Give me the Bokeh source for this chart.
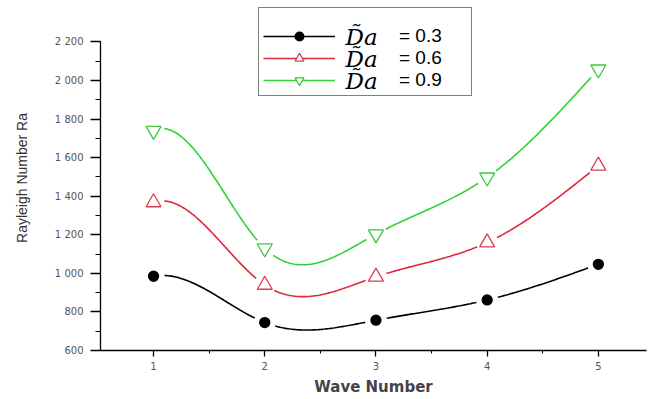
import numpy as np
from bokeh.plotting import figure
from bokeh.models import Range1d, SingleIntervalTicker, Legend, LegendItem, Label
from bokeh.embed import file_html
from bokeh.resources import INLINE

# ---- data ----
wave = [1, 2, 3, 4, 5]
ra_da03 = [985, 745, 757, 862, 1047]
ra_da06 = [1368, 940, 982, 1160, 1558]
ra_da09 = [1740, 1130, 1203, 1498, 2058]
series_labels = ["= 0.3", "= 0.6", "= 0.9"]
y_ticks = [600, 800, 1000, 1200, 1400, 1600, 1800, 2000, 2200]
y_tick_labels = ["600", "800", "1 000", "1 200", "1 400", "1 600", "1 800", "2 000", "2 200"]
x_ticks = [1, 2, 3, 4, 5]


def smooth(xs, ys, n=300):
    """Cubic spline through the data points (clamped start, natural end)."""
    x = np.asarray(xs, float)
    y = np.asarray(ys, float)
    m = len(x)
    h = np.diff(x)
    d0 = 0.45 * (y[0] - y[1])
    A = np.zeros((m, m))
    b = np.zeros(m)
    A[0, 0] = 2 * h[0]
    A[0, 1] = h[0]
    b[0] = 6 * ((y[1] - y[0]) / h[0] - d0)
    for i in range(1, m - 1):
        A[i, i - 1] = h[i - 1]
        A[i, i] = 2 * (h[i - 1] + h[i])
        A[i, i + 1] = h[i]
        b[i] = 6 * ((y[i + 1] - y[i]) / h[i] - (y[i] - y[i - 1]) / h[i - 1])
    A[m - 1, m - 1] = 1.0
    M = np.linalg.solve(A, b)
    xx = np.linspace(x[0], x[-1], n)
    idx = np.clip(np.searchsorted(x, xx) - 1, 0, m - 2)
    x0, x1 = x[idx], x[idx + 1]
    hh = x1 - x0
    yy = (M[idx] * (x1 - xx) ** 3 / (6 * hh) + M[idx + 1] * (xx - x0) ** 3 / (6 * hh)
          + (y[idx] / hh - M[idx] * hh / 6) * (x1 - xx)
          + (y[idx + 1] / hh - M[idx + 1] * hh / 6) * (xx - x0))
    return xx, yy


p = figure(width=649, height=399,
           x_range=Range1d(0.523, 5.433), y_range=Range1d(600, 2389),
           output_backend="svg", toolbar_location=None,
           min_border_left=100, min_border_right=3,
           min_border_top=5, min_border_bottom=49)
p.xgrid.visible = False
p.ygrid.visible = False
p.outline_line_color = None
p.background_fill_color = "white"
p.border_fill_color = "white"

specs = [
    (ra_da03, "black", "circle", "black", "black", 10),
    (ra_da06, "#e0283a", "triangle", "white", "#d84050", 15),
    (ra_da09, "#2fd42f", "inverted_triangle", "white", "#3cc83c", 15),
]

items = []
for (vals, col, mk, fill, mline, sz), lab in zip(specs, series_labels):
    xx, yy = smooth(wave, vals)
    ln = p.line(xx, yy, line_color=col, line_width=1.6)
    p.scatter(wave, vals, marker="circle", size=22, fill_color="white", line_color=None)
    sc = p.scatter(wave, vals, marker=mk, size=sz, fill_color=fill, line_color=mline, line_width=1.3)
    items.append(LegendItem(label=lab, renderers=[ln, sc]))

# axes
xa = p.xaxis[0]
xa.ticker = SingleIntervalTicker(interval=1, num_minor_ticks=2)
xa.axis_label = "Wave Number"
xa.axis_label_text_font = "DejaVu Sans"
xa.axis_label_text_font_style = "bold"
xa.axis_label_text_font_size = "15px"
xa.axis_label_text_color = "#444444"
xa.axis_label_standoff = 5
xa.major_label_text_font = "DejaVu Sans"
xa.major_label_text_font_size = "10px"
xa.major_label_text_color = "#555555"
xa.major_label_standoff = 5
xa.major_tick_out = 6
xa.major_tick_in = 0
xa.minor_tick_out = 3
xa.minor_tick_in = 0
xa.axis_line_width = 1.3
xa.major_tick_line_width = 1.3
xa.minor_tick_line_width = 1.0

ya = p.yaxis[0]
ya.bounds = (600, 2200)
ya.ticker = SingleIntervalTicker(interval=200, num_minor_ticks=2)
ya.major_label_overrides = {t: s for t, s in zip(y_ticks, y_tick_labels)}
ya.axis_label = "Rayleigh Number Ra"
ya.axis_label_text_font = "Liberation Sans"
ya.axis_label_text_font_style = "normal"
ya.axis_label_text_font_size = "14px"
ya.axis_label_text_color = "#333333"
ya.axis_label_standoff = 22
ya.major_label_text_font = "DejaVu Sans"
ya.major_label_text_font_size = "10px"
ya.major_label_text_color = "#555555"
ya.major_label_standoff = 7
ya.major_tick_out = 10
ya.major_tick_in = 0
ya.minor_tick_out = 5
ya.minor_tick_in = 0
ya.axis_line_width = 1.3
ya.major_tick_line_width = 1.3
ya.minor_tick_line_width = 1.0

legend = Legend(items=items, location=(158, 254), margin=0,
                glyph_width=72, glyph_height=22, label_height=22,
                label_standoff=64, label_width=68, spacing=0, padding=4,
                border_line_color="black", border_line_width=1,
                background_fill_alpha=0.0,
                label_text_font="Liberation Sans", label_text_font_size="19px",
                label_text_color="black",
                title=" ", title_text_font_size="10px", title_standoff=2)
p.add_layout(legend)

for yrow in [314, 292, 270]:
    p.add_layout(Label(x=245, y=yrow, x_units="screen", y_units="screen",
                       text="D\u0303a", text_font="DejaVu Serif",
                       text_font_style="italic", text_font_size="23px",
                       text_baseline="middle", text_color="black"))

open("out.html", "w").write(file_html(p, INLINE))
